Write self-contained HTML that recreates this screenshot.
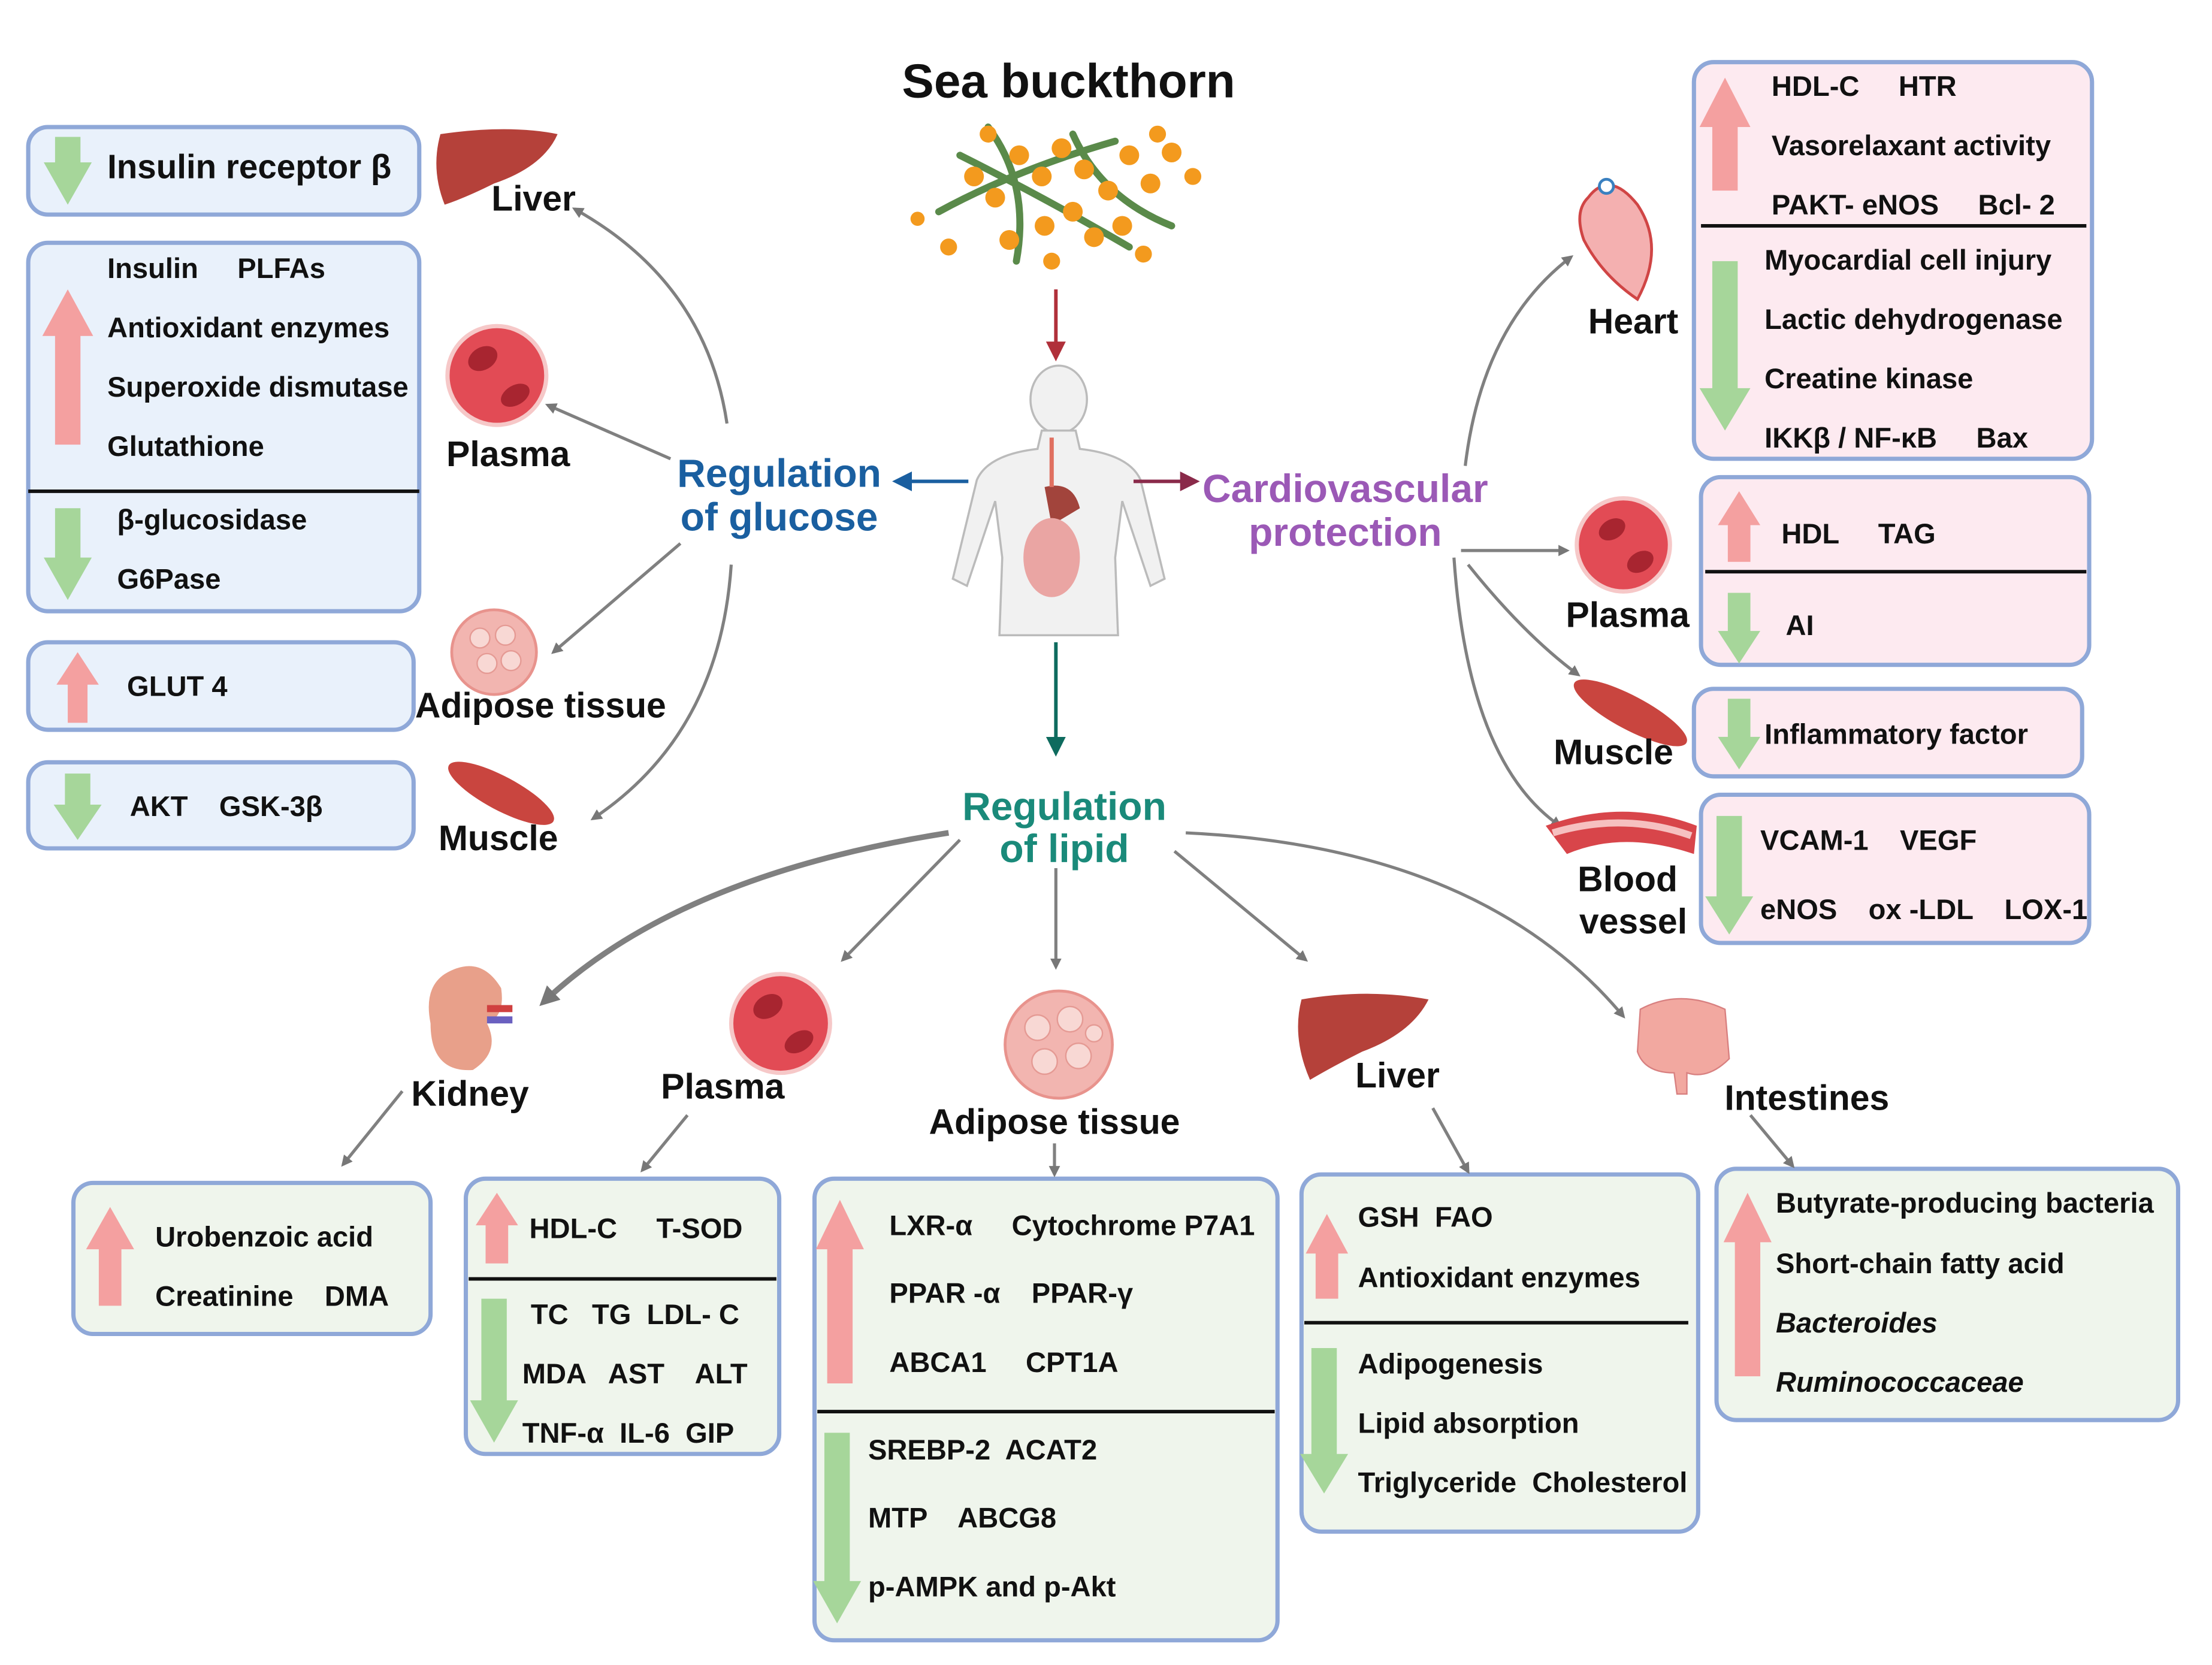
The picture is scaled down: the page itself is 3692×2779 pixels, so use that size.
<!DOCTYPE html>
<html><head><meta charset="utf-8"><style>
html,body{margin:0;padding:0;background:#fff}
svg{display:block}
text{font-family:"Liberation Sans",sans-serif;font-weight:bold;fill:#111;dominant-baseline:central;white-space:pre}
.t{font-size:20px}
.l{font-size:25px}
</style></head><body>
<svg width="3692" height="2779" viewBox="0 0 1567 1179.5" preserveAspectRatio="none" xmlns="http://www.w3.org/2000/svg" xml:space="preserve">
<defs>
<marker id="ag" markerWidth="8" markerHeight="8" refX="6" refY="4" orient="auto" markerUnits="userSpaceOnUse"><path d="M0,0 L8,4 L0,8 Z" fill="#777"/></marker>
<marker id="agl" markerWidth="14" markerHeight="14" refX="10" refY="7" orient="auto" markerUnits="userSpaceOnUse"><path d="M0,0 L14,7 L0,14 Z" fill="#777"/></marker>
<marker id="ar" markerWidth="14" markerHeight="14" refX="10" refY="7" orient="auto" markerUnits="userSpaceOnUse"><path d="M0,0 L14,7 L0,14 Z" fill="#b0303a"/></marker>
<marker id="ab" markerWidth="14" markerHeight="14" refX="10" refY="7" orient="auto" markerUnits="userSpaceOnUse"><path d="M0,0 L14,7 L0,14 Z" fill="#1a5fa0"/></marker>
<marker id="ap" markerWidth="14" markerHeight="14" refX="10" refY="7" orient="auto" markerUnits="userSpaceOnUse"><path d="M0,0 L14,7 L0,14 Z" fill="#8a2a4a"/></marker>
<marker id="at" markerWidth="14" markerHeight="14" refX="10" refY="7" orient="auto" markerUnits="userSpaceOnUse"><path d="M0,0 L14,7 L0,14 Z" fill="#0e6b5e"/></marker>
</defs>

<g stroke="#8fa8d8" stroke-width="3" fill="#e9f1fb">
<rect x="20" y="90" width="277" height="62" rx="14"/>
<rect x="20" y="172" width="277" height="261" rx="14"/>
<rect x="20" y="455" width="273" height="62" rx="14"/>
<rect x="20" y="540" width="273" height="61" rx="14"/>
</g>
<line x1="20" y1="348" x2="297" y2="348" stroke="#111" stroke-width="2.5"/>
<g stroke="#8fa8d8" stroke-width="3" fill="#fdeaf0">
<rect x="1200" y="44" width="282" height="281" rx="14"/>
<rect x="1205" y="338" width="275" height="133" rx="14"/>
<rect x="1200" y="488" width="275" height="62" rx="14"/>
<rect x="1205" y="563" width="275" height="105" rx="14"/>
</g>
<line x1="1205" y1="160" x2="1478" y2="160" stroke="#111" stroke-width="2.5"/>
<line x1="1208" y1="405" x2="1478" y2="405" stroke="#111" stroke-width="2.5"/>
<g stroke="#8fa8d8" stroke-width="3" fill="#eff5ec">
<rect x="52" y="838" width="253" height="107" rx="14"/>
<rect x="330" y="835" width="222" height="195" rx="14"/>
<rect x="577" y="835" width="328" height="327" rx="14"/>
<rect x="922" y="832" width="281" height="253" rx="14"/>
<rect x="1216" y="828" width="327" height="178" rx="14"/>
</g>
<g stroke="#111" stroke-width="2.5">
<line x1="332" y1="906" x2="550" y2="906"/>
<line x1="579" y1="1000" x2="903" y2="1000"/>
<line x1="924" y1="937" x2="1196" y2="937"/>
</g>

<g fill="#f4a0a0">
<polygon points="48,205 66,238 57,238 57,315 39,315 39,238 30,238"/>
<polygon points="55,462 70,485 62,485 62,512 48,512 48,485 40,485"/>
<polygon points="1222,55 1240,90 1231,90 1231,135 1213,135 1213,90 1204,90"/>
<polygon points="1232,348 1247,372 1240,372 1240,398 1224,398 1224,372 1217,372"/>
<polygon points="78,855 95,885 86,885 86,925 70,925 70,885 61,885"/>
<polygon points="352,845 367,868 360,868 360,895 344,895 344,868 337,868"/>
<polygon points="595,850 612,885 604,885 604,980 586,980 586,885 578,885"/>
<polygon points="940,860 955,888 948,888 948,920 932,920 932,888 925,888"/>
<polygon points="1238,845 1255,880 1247,880 1247,975 1229,975 1229,880 1221,880"/>
</g>
<g fill="#a6d69a">
<polygon points="39,97 57,97 57,115 65,115 48,145 31,115 39,115"/>
<polygon points="39,360 57,360 57,395 65,395 48,425 31,395 39,395"/>
<polygon points="46,548 64,548 64,570 72,570 55,595 38,570 46,570"/>
<polygon points="1213,185 1231,185 1231,275 1240,275 1222,305 1204,275 1213,275"/>
<polygon points="1224,420 1240,420 1240,447 1247,447 1232,470 1217,447 1224,447"/>
<polygon points="1224,495 1240,495 1240,522 1247,522 1232,545 1217,522 1224,522"/>
<polygon points="1216,578 1234,578 1234,635 1242,635 1225,662 1208,635 1216,635"/>
<polygon points="341,920 359,920 359,992 367,992 350,1022 333,992 341,992"/>
<polygon points="584,1015 602,1015 602,1120 610,1120 593,1150 576,1120 584,1120"/>
<polygon points="929,955 947,955 947,1030 955,1030 938,1058 921,1030 929,1030"/>
</g>

<text x="76" y="118" style="font-size:24px">Insulin receptor β</text>
<text x="76" y="190" class="t">Insulin     PLFAs</text>
<text x="76" y="232" class="t">Antioxidant enzymes</text>
<text x="76" y="274" class="t">Superoxide dismutase</text>
<text x="76" y="316" class="t">Glutathione</text>
<text x="83" y="368" class="t">β-glucosidase</text>
<text x="83" y="410" class="t">G6Pase</text>
<text x="90" y="486" class="t">GLUT 4</text>
<text x="92" y="571" class="t">AKT    GSK-3β</text>

<text x="1255" y="61" class="t">HDL-C     HTR</text>
<text x="1255" y="103" class="t">Vasorelaxant activity</text>
<text x="1255" y="145" class="t">PAKT- eNOS     Bcl- 2</text>
<text x="1250" y="184" class="t">Myocardial cell injury</text>
<text x="1250" y="226" class="t">Lactic dehydrogenase</text>
<text x="1250" y="268" class="t">Creatine kinase</text>
<text x="1250" y="310" class="t">IKKβ / NF-κB     Bax</text>
<text x="1262" y="378" class="t">HDL     TAG</text>
<text x="1265" y="443" class="t">AI</text>
<text x="1250" y="520" class="t">Inflammatory factor</text>
<text x="1247" y="595" class="t">VCAM-1    VEGF</text>
<text x="1247" y="644" class="t">eNOS    ox -LDL    LOX-1</text>

<text x="110" y="876" class="t">Urobenzoic acid</text>
<text x="110" y="918" class="t">Creatinine    DMA</text>
<text x="375" y="870" class="t">HDL-C     T-SOD</text>
<text x="376" y="931" class="t">TC   TG  LDL- C</text>
<text x="370" y="973" class="t">MDA   AST    ALT</text>
<text x="370" y="1015" class="t">TNF-α  IL-6  GIP</text>
<text x="630" y="868" class="t">LXR-α     Cytochrome P7A1</text>
<text x="630" y="916" class="t">PPAR -α    PPAR-γ</text>
<text x="630" y="965" class="t">ABCA1     CPT1A</text>
<text x="615" y="1027" class="t">SREBP-2  ACAT2</text>
<text x="615" y="1075" class="t">MTP    ABCG8</text>
<text x="615" y="1124" class="t">p-AMPK and p-Akt</text>
<text x="962" y="862" class="t">GSH  FAO</text>
<text x="962" y="905" class="t">Antioxidant enzymes</text>
<text x="962" y="966" class="t">Adipogenesis</text>
<text x="962" y="1008" class="t">Lipid absorption</text>
<text x="962" y="1050" class="t">Triglyceride  Cholesterol</text>
<text x="1258" y="852" class="t">Butyrate-producing bacteria</text>
<text x="1258" y="895" class="t">Short-chain fatty acid</text>
<text x="1258" y="937" class="t" font-style="italic">Bacteroides</text>
<text x="1258" y="979" class="t" font-style="italic">Ruminococcaceae</text>

<text x="757" y="57" text-anchor="middle" style="font-size:34px">Sea buckthorn</text>
<g stroke="#5a8a4a" stroke-width="5" stroke-linecap="round" fill="none">
<path d="M665,150 Q720,120 790,100"/><path d="M680,110 Q740,140 800,175"/>
<path d="M700,90 Q730,130 720,185"/><path d="M760,95 Q780,140 830,160"/>
</g>
<g fill="#f39a1e">
<circle cx="690" cy="125" r="7"/><circle cx="705" cy="140" r="7"/><circle cx="722" cy="110" r="7"/><circle cx="738" cy="125" r="7"/>
<circle cx="752" cy="105" r="7"/><circle cx="768" cy="120" r="7"/><circle cx="785" cy="135" r="7"/><circle cx="800" cy="110" r="7"/>
<circle cx="815" cy="130" r="7"/><circle cx="830" cy="108" r="7"/><circle cx="845" cy="125" r="6"/><circle cx="760" cy="150" r="7"/>
<circle cx="775" cy="168" r="7"/><circle cx="740" cy="160" r="7"/><circle cx="715" cy="170" r="7"/><circle cx="795" cy="160" r="7"/>
<circle cx="810" cy="180" r="6"/><circle cx="745" cy="185" r="6"/><circle cx="820" cy="95" r="6"/><circle cx="650" cy="155" r="5"/>
<circle cx="672" cy="175" r="6"/><circle cx="700" cy="95" r="6"/>
</g>
<line x1="748" y1="205" x2="748" y2="252" stroke="#b0303a" stroke-width="2.5" marker-end="url(#ar)"/>
<g fill="#f1f1f1" stroke="#bbb" stroke-width="1.5">
<ellipse cx="750" cy="283" rx="20" ry="24"/>
<path d="M738,305 L762,305 L765,318 Q800,322 808,340 L825,410 L815,415 L795,355 L790,395 L792,450 L708,450 L710,395 L705,355 L685,415 L675,410 L692,340 Q700,322 735,318 Z"/>
</g>
<path d="M740,345 Q760,340 765,360 L745,372 Z" fill="#a2443c"/>
<ellipse cx="745" cy="395" rx="20" ry="28" fill="#eaa5a3"/>
<line x1="745" y1="310" x2="745" y2="345" stroke="#e07060" stroke-width="3"/>

<line x1="686" y1="341" x2="636" y2="341" stroke="#1a5fa0" stroke-width="2.5" marker-end="url(#ab)"/>
<line x1="803" y1="341" x2="846" y2="341" stroke="#8a2a4a" stroke-width="2.5" marker-end="url(#ap)"/>
<line x1="748" y1="455" x2="748" y2="532" stroke="#0e6b5e" stroke-width="2.5" marker-end="url(#at)"/>
<text x="552" y="335" text-anchor="middle" style="font-size:28px;fill:#1a5fa0">Regulation</text>
<text x="552" y="366" text-anchor="middle" style="font-size:28px;fill:#1a5fa0">of glucose</text>
<text x="953" y="346" text-anchor="middle" style="font-size:28px;fill:#9b59b6">Cardiovascular</text>
<text x="953" y="377" text-anchor="middle" style="font-size:28px;fill:#9b59b6">protection</text>
<text x="754" y="571" text-anchor="middle" style="font-size:28px;fill:#1a8a7a">Regulation</text>
<text x="754" y="601" text-anchor="middle" style="font-size:28px;fill:#1a8a7a">of lipid</text>

<g stroke="#808080" stroke-width="2.2" fill="none" marker-end="url(#ag)">
<path d="M515,300 Q500,200 407,148"/>
<path d="M475,325 L388,287"/>
<path d="M482,385 L392,462"/>
<path d="M518,400 Q510,520 420,580"/>
<path d="M1038,330 Q1050,230 1113,182"/>
<path d="M1035,390 L1110,390"/>
<path d="M1040,400 Q1080,450 1118,478"/>
<path d="M1030,395 Q1040,540 1105,585"/>
<path d="M680,595 L597,680"/>
<path d="M748,615 L748,685"/>
<path d="M832,603 L925,680"/>
<path d="M840,590 Q1050,600 1150,720"/>
<path d="M285,773 L243,825"/>
<path d="M487,790 L455,829"/>
<path d="M747,810 L747,832"/>
<path d="M1015,785 L1040,830"/>
<path d="M1240,790 L1270,826"/>
</g>
<path d="M672,590 Q480,620 385,710" stroke="#808080" stroke-width="4" fill="none" marker-end="url(#agl)"/>

<path d="M312,95 Q360,88 395,95 Q385,118 350,130 Q330,140 315,145 Q305,120 312,95 Z" fill="#b5413a"/>
<text x="378" y="141" text-anchor="middle" class="l">Liver</text>
<circle cx="352" cy="266" r="35" fill="#e24b55" stroke="#f6c8c8" stroke-width="3"/>
<ellipse cx="342" cy="254" rx="11" ry="8" fill="#a82530" transform="rotate(-30 342 254)"/>
<ellipse cx="365" cy="280" rx="11" ry="7" fill="#a82530" transform="rotate(-30 365 280)"/>
<text x="360" y="322" text-anchor="middle" class="l">Plasma</text>
<circle cx="350" cy="462" r="30" fill="#f2b5b0" stroke="#e8938d" stroke-width="2"/>
<g fill="#f8d8d4" stroke="#e59a94"><circle cx="340" cy="452" r="7"/><circle cx="358" cy="450" r="7"/><circle cx="345" cy="470" r="7"/><circle cx="362" cy="468" r="7"/></g>
<text x="383" y="500" text-anchor="middle" class="l">Adipose tissue</text>
<ellipse cx="355" cy="562" rx="42" ry="12" fill="#c9453f" transform="rotate(28 355 562)"/>
<text x="353" y="594" text-anchor="middle" class="l">Muscle</text>
<path d="M1125,140 Q1140,120 1160,145 Q1180,175 1160,212 Q1135,195 1122,170 Q1115,150 1125,140 Z" fill="#f4b0b0" stroke="#d04545" stroke-width="2"/>
<circle cx="1138" cy="132" r="5" fill="#fff" stroke="#3a80c0" stroke-width="2"/>
<text x="1157" y="228" text-anchor="middle" class="l">Heart</text>
<circle cx="1150" cy="386" r="33" fill="#e24b55" stroke="#f6c8c8" stroke-width="3"/>
<ellipse cx="1142" cy="375" rx="10" ry="7" fill="#a82530" transform="rotate(-30 1142 375)"/>
<ellipse cx="1162" cy="398" rx="10" ry="7" fill="#a82530" transform="rotate(-30 1162 398)"/>
<text x="1153" y="436" text-anchor="middle" class="l">Plasma</text>
<ellipse cx="1155" cy="505" rx="45" ry="12" fill="#c9453f" transform="rotate(28 1155 505)"/>
<text x="1143" y="533" text-anchor="middle" class="l">Muscle</text>
<path d="M1095,585 Q1150,565 1202,585 L1200,605 Q1150,588 1110,605 Z" fill="#d8454a"/>
<path d="M1100,590 Q1150,575 1198,592" stroke="#f6c0c0" stroke-width="5" fill="none"/>
<text x="1153" y="623" text-anchor="middle" class="l">Blood</text>
<text x="1157" y="653" text-anchor="middle" class="l">vessel</text>
<path d="M315,690 Q340,675 355,700 Q358,720 345,725 Q355,745 335,758 Q305,760 305,725 Q300,700 315,690 Z" fill="#e8a08a"/>
<rect x="345" y="712" width="18" height="5" fill="#d04040"/><rect x="345" y="720" width="18" height="5" fill="#6a60c0"/>
<text x="333" y="775" text-anchor="middle" class="l">Kidney</text>
<circle cx="553" cy="725" r="35" fill="#e24b55" stroke="#f6c8c8" stroke-width="3"/>
<ellipse cx="544" cy="713" rx="11" ry="8" fill="#a82530" transform="rotate(-30 544 713)"/>
<ellipse cx="566" cy="738" rx="11" ry="7" fill="#a82530" transform="rotate(-30 566 738)"/>
<text x="512" y="770" text-anchor="middle" class="l">Plasma</text>
<circle cx="750" cy="740" r="38" fill="#f2b5b0" stroke="#e8938d" stroke-width="2"/>
<g fill="#f8d8d4" stroke="#e59a94"><circle cx="735" cy="728" r="9"/><circle cx="758" cy="722" r="9"/><circle cx="740" cy="752" r="9"/><circle cx="764" cy="748" r="9"/><circle cx="775" cy="732" r="6"/></g>
<text x="747" y="795" text-anchor="middle" class="l">Adipose tissue</text>
<path d="M922,708 Q970,700 1012,708 Q1000,732 965,745 Q945,755 928,765 Q915,735 922,708 Z" fill="#b5413a"/>
<text x="990" y="762" text-anchor="middle" class="l">Liver</text>
<path d="M1162,715 Q1190,700 1222,715 L1225,750 Q1210,765 1195,760 L1195,775 L1188,775 L1186,760 Q1165,760 1160,745 Z" fill="#f2a8a0" stroke="#d88080"/>
<text x="1280" y="778" text-anchor="middle" class="l">Intestines</text>
</svg>
</body></html>
